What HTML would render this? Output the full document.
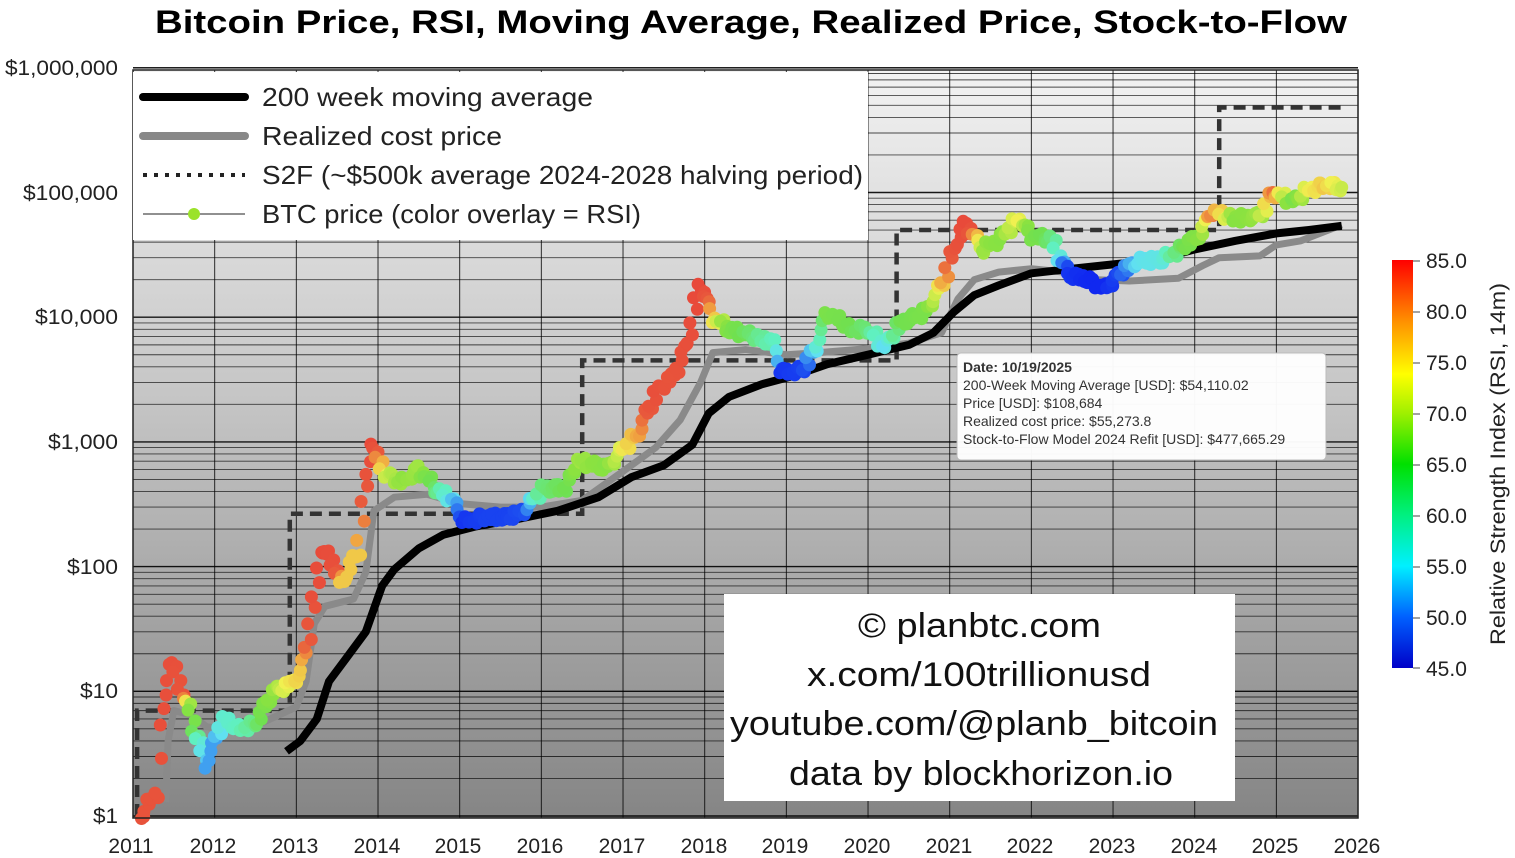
<!DOCTYPE html>
<html><head><meta charset="utf-8">
<style>
html,body{margin:0;padding:0;background:#fff;}
body{width:1515px;height:858px;overflow:hidden;font-family:"Liberation Sans",sans-serif;}
</style></head>
<body>
<svg id="s" width="1515" height="858" xmlns="http://www.w3.org/2000/svg" font-family="Liberation Sans, sans-serif" style="position:absolute;left:0;top:0">
<defs>
<linearGradient id="bg" x1="0" y1="0" x2="0" y2="1">
<stop offset="0" stop-color="#f2f2f2"/><stop offset="0.45" stop-color="#c4c4c4"/><stop offset="1" stop-color="#858585"/>
</linearGradient>
<linearGradient id="jet" x1="0" y1="1" x2="0" y2="0">
<stop offset="0" stop-color="#0000c8"/><stop offset="0.125" stop-color="#0060ff"/><stop offset="0.25" stop-color="#00f0ff"/><stop offset="0.375" stop-color="#00f080"/><stop offset="0.5" stop-color="#00e000"/><stop offset="0.625" stop-color="#a0f000"/><stop offset="0.72" stop-color="#ffff00"/><stop offset="0.85" stop-color="#ff9000"/><stop offset="1" stop-color="#ff0000"/>
</linearGradient>
</defs>
<rect x="133" y="70" width="1225" height="748" fill="url(#bg)"/>
<g id="grid" stroke="#000" fill="none"></g>
<g id="series"></g>
<rect x="133" y="70" width="1225" height="748" fill="none" stroke="#222" stroke-width="1.5"/>
<text x="751" y="33" text-anchor="middle" font-size="32" font-weight="bold" fill="#000" textLength="1192" lengthAdjust="spacingAndGlyphs">Bitcoin Price, RSI, Moving Average, Realized Price, Stock-to-Flow</text>
<g font-size="21" fill="#222" text-anchor="end">
<text x="118" y="75" textLength="113" lengthAdjust="spacingAndGlyphs">$1,000,000</text>
<text x="118" y="200" textLength="95" lengthAdjust="spacingAndGlyphs">$100,000</text>
<text x="118" y="324" textLength="83" lengthAdjust="spacingAndGlyphs">$10,000</text>
<text x="118" y="449" textLength="70" lengthAdjust="spacingAndGlyphs">$1,000</text>
<text x="118" y="574" textLength="51" lengthAdjust="spacingAndGlyphs">$100</text>
<text x="118" y="698" textLength="38" lengthAdjust="spacingAndGlyphs">$10</text>
<text x="118" y="823" textLength="25" lengthAdjust="spacingAndGlyphs">$1</text>
</g>
<g font-size="21" fill="#222" text-anchor="middle">
<text x="131" y="853">2011</text><text x="213" y="853">2012</text><text x="295" y="853">2013</text><text x="377" y="853">2014</text><text x="458" y="853">2015</text><text x="540" y="853">2016</text><text x="622" y="853">2017</text><text x="704" y="853">2018</text><text x="785" y="853">2019</text><text x="867" y="853">2020</text><text x="949" y="853">2021</text><text x="1030" y="853">2022</text><text x="1112" y="853">2023</text><text x="1194" y="853">2024</text><text x="1275" y="853">2025</text><text x="1357" y="853">2026</text>
</g>
<!-- legend -->
<rect x="133" y="72" width="735" height="168" fill="#fff"/>
<line x1="143" y1="97" x2="245" y2="97" stroke="#000" stroke-width="8" stroke-linecap="round"/>
<line x1="143" y1="136" x2="245" y2="136" stroke="#888" stroke-width="8" stroke-linecap="round"/>
<line x1="143" y1="175" x2="245" y2="175" stroke="#222" stroke-width="4" stroke-dasharray="4,7"/>
<line x1="143" y1="214" x2="245" y2="214" stroke="#222" stroke-width="1"/>
<circle cx="194" cy="214" r="6" fill="#9be22a"/>
<g font-size="26" fill="#222">
<text x="262" y="106" textLength="331" lengthAdjust="spacingAndGlyphs">200 week moving average</text>
<text x="262" y="145" textLength="240" lengthAdjust="spacingAndGlyphs">Realized cost price</text>
<text x="262" y="184" textLength="601" lengthAdjust="spacingAndGlyphs">S2F (~$500k average 2024-2028 halving period)</text>
<text x="262" y="223" textLength="379" lengthAdjust="spacingAndGlyphs">BTC price (color overlay = RSI)</text>
</g>
<!-- tooltip -->
<rect x="957" y="353" width="369" height="107" rx="4" fill="#fff" stroke="#bbb" opacity="0.97"/>
<g font-size="14" fill="#333">
<text x="963" y="372" font-weight="bold">Date: 10/19/2025</text>
<text x="963" y="390">200-Week Moving Average [USD]: $54,110.02</text>
<text x="963" y="408">Price [USD]: $108,684</text>
<text x="963" y="426">Realized cost price: $55,273.8</text>
<text x="963" y="444">Stock-to-Flow Model 2024 Refit [USD]: $477,665.29</text>
</g>
<!-- watermark -->
<rect x="724" y="594" width="511" height="207" fill="#fff"/>
<g font-size="34" fill="#111">
<text x="858" y="637" textLength="243" lengthAdjust="spacingAndGlyphs">© planbtc.com</text>
<text x="807" y="686" textLength="344" lengthAdjust="spacingAndGlyphs">x.com/100trillionusd</text>
<text x="730" y="735" textLength="488" lengthAdjust="spacingAndGlyphs">youtube.com/@planb_bitcoin</text>
<text x="789" y="785" textLength="384" lengthAdjust="spacingAndGlyphs">data by blockhorizon.io</text>
</g>
<!-- colorbar -->
<rect x="1392" y="260" width="21" height="408" fill="url(#jet)"/>
<g font-size="21" fill="#222">
<text x="1426" y="268">85.0</text><text x="1426" y="319">80.0</text><text x="1426" y="370">75.0</text><text x="1426" y="421">70.0</text><text x="1426" y="472">65.0</text><text x="1426" y="523">60.0</text><text x="1426" y="574">55.0</text><text x="1426" y="625">50.0</text><text x="1426" y="676">45.0</text>
</g>
<g stroke="#444" stroke-width="1">
<line x1="1413" y1="261" x2="1420" y2="261"/><line x1="1413" y1="312" x2="1420" y2="312"/><line x1="1413" y1="363" x2="1420" y2="363"/><line x1="1413" y1="414" x2="1420" y2="414"/><line x1="1413" y1="465" x2="1420" y2="465"/><line x1="1413" y1="516" x2="1420" y2="516"/><line x1="1413" y1="567" x2="1420" y2="567"/><line x1="1413" y1="618" x2="1420" y2="618"/><line x1="1413" y1="668" x2="1420" y2="668"/>
</g>
<text transform="translate(1505,464) rotate(-90)" text-anchor="middle" font-size="21" fill="#222" textLength="362" lengthAdjust="spacingAndGlyphs">Relative Strength Index (RSI, 14m)</text>
</svg>
<script>
var NS="http://www.w3.org/2000/svg";
function X(t){return 133+(t-2011)*81.67;}
function Y(p){return 816-Math.log10(p)*124.7;}
function el(tag,a,parent){var e=document.createElementNS(NS,tag);for(var k in a)e.setAttribute(k,a[k]);parent.appendChild(e);return e;}
var g=document.getElementById('grid');
for(var d=0;d<6;d++){for(var m=1;m<10;m++){var p=m*Math.pow(10,d);var y=Y(p);if(y<70)continue;
el('line',{x1:133,x2:1358,y1:y,y2:y,'stroke-width':m==1?1.4:0.9,'stroke-opacity':m==1?0.9:0.7},g);}}
el('line',{x1:133,x2:1358,y1:Y(1e6),y2:Y(1e6),'stroke-width':1.4},g);
for(var t=2011;t<=2026;t++){el('line',{x1:X(t),x2:X(t),y1:70,y2:818,'stroke-width':1,'stroke-opacity':0.8},g);}
var S=document.getElementById('series');
function path(pts,a){var d='';pts.forEach(function(q,i){d+=(i?'L':'M')+X(q[0]).toFixed(1)+','+Y(q[1]).toFixed(1);});a.d=d;a.fill='none';return el('path',a,S);}
path([[2011.05,1],[2011.05,7],[2012.92,7],[2012.92,265],[2016.5,265],[2016.5,4500],[2020.35,4500],[2020.35,50000],[2024.3,50000],[2024.3,480000],[2025.8,480000]],{stroke:'#333','stroke-width':4.5,'stroke-dasharray':'12,7'});
path([[2011.4,1.3],[2011.43,4],[2011.5,7],[2011.7,6.5],[2011.9,5.2],[2012.1,5],[2012.5,5.3],[2012.8,6.5],[2013,7.5],[2013.12,12],[2013.22,35],[2013.35,48],[2013.7,55],[2013.85,90],[2013.95,280],[2014.2,360],[2014.6,380],[2015,320],[2015.5,300],[2016,300],[2016.5,340],[2017,580],[2017.4,900],[2017.7,1500],[2017.95,3000],[2018.1,5200],[2018.5,5500],[2019,5000],[2019.4,5200],[2020,5600],[2020.5,6200],[2020.9,7500],[2021.1,14000],[2021.3,20000],[2021.6,23000],[2022,24500],[2022.4,23000],[2022.8,20000],[2023.2,19500],[2023.8,20500],[2024.1,26000],[2024.3,30000],[2024.8,31000],[2025,38000],[2025.3,41000],[2025.8,55000]],{stroke:'#8a8a8a','stroke-width':7,'stroke-linejoin':'round'});
path([[2012.88,3.3],[2013.05,4],[2013.25,6],[2013.4,12],[2013.6,18],[2013.85,30],[2014.05,70],[2014.2,95],[2014.5,140],[2014.8,180],[2015.2,210],[2015.7,240],[2016.2,280],[2016.7,360],[2017.1,520],[2017.5,650],[2017.85,950],[2018.05,1700],[2018.3,2300],[2018.7,2900],[2019.1,3400],[2019.5,4200],[2020,5000],[2020.5,6000],[2020.8,7500],[2021.05,11000],[2021.3,15000],[2021.6,18000],[2022,22500],[2022.5,24500],[2023,26500],[2023.5,28500],[2024,35000],[2024.5,41000],[2025,47000],[2025.4,50000],[2025.8,54000]],{stroke:'#000','stroke-width':8,'stroke-linejoin':'round'});
var P=[[2011.1,1,80],[2011.3,1.6,80],[2011.35,5,82],[2011.45,18,82],[2011.6,10,80],[2011.68,7.5,66],[2011.8,4,55],[2011.9,2.6,50],[2012.0,4,50],[2012.1,6,54],[2012.3,5,55],[2012.5,5.5,58],[2012.6,7,62],[2012.7,10,65],[2012.9,11,70],[2013.05,14,72],[2013.15,28,78],[2013.22,55,82],[2013.3,140,84],[2013.45,110,82],[2013.55,70,72],[2013.75,130,72],[2013.92,1000,84],[2014.0,700,75],[2014.1,550,68],[2014.3,470,65],[2014.5,620,66],[2014.7,420,58],[2014.9,350,52],[2015.05,230,46],[2015.3,250,47],[2015.6,250,47],[2015.8,280,48],[2016,420,58],[2016.3,430,60],[2016.45,700,66],[2016.8,620,64],[2017.0,880,70],[2017.2,1200,74],[2017.4,2500,82],[2017.6,3200,80],[2017.8,6500,82],[2017.95,19000,85],[2018.1,10000,72],[2018.3,8000,62],[2018.6,7000,58],[2018.85,6200,55],[2018.95,3600,46],[2019.2,3800,47],[2019.35,5500,52],[2019.5,11000,62],[2019.8,8000,60],[2020.0,8000,58],[2020.2,5800,52],[2020.4,9000,60],[2020.7,11000,62],[2020.9,18000,72],[2021.05,35000,80],[2021.2,57000,84],[2021.4,35000,66],[2021.6,42000,64],[2021.85,62000,70],[2022.0,45000,62],[2022.25,42000,58],[2022.45,22000,46],[2022.7,20000,45],[2022.9,17000,45],[2023.1,23000,48],[2023.3,28000,52],[2023.6,29000,53],[2023.85,36000,60],[2024.05,45000,64],[2024.2,70000,76],[2024.5,62000,64],[2024.8,65000,66],[2024.95,100000,76],[2025.2,85000,62],[2025.4,105000,70],[2025.6,115000,72],[2025.8,110000,68]];
var ST=[[45,[16,40,240]],[48,[30,80,240]],[50,[64,160,240]],[52,[96,224,240]],[55,[96,240,192]],[60,[112,224,80]],[65,[140,226,64]],[70,[240,240,80]],[74,[240,160,64]],[77,[232,90,60]],[85,[232,72,58]]];
function col(r){if(r<=45)return 'rgb(16,40,240)';for(var i=1;i<ST.length;i++){if(r<=ST[i][0]){var a=ST[i-1],b=ST[i],f=(r-a[0])/(b[0]-a[0]);return 'rgb('+a[1].map(function(x,j){return Math.round(x+(b[1][j]-x)*f);}).join(',')+')';}}return 'rgb(232,72,58)';}
for(var i=0;i<P.length-1;i++){var a=P[i],b=P[i+1];var n=Math.max(2,Math.round((b[0]-a[0])/0.025));
for(var k=0;k<n;k++){var f=k/n;var t=a[0]+(b[0]-a[0])*f;var lp=Math.log10(a[1])+(Math.log10(b[1])-Math.log10(a[1]))*f;var r=a[2]+(b[2]-a[2])*f;
var jx=Math.sin(t*137)*3,jy=Math.cos(t*211)*4;
el('circle',{cx:(X(t)+jx).toFixed(1),cy:(816-lp*124.7+jy).toFixed(1),r:6.5,fill:col(r)},S);}}
el('circle',{cx:X(2025.8),cy:Y(110000),r:6.5,fill:col(68)},S);
</script>
</body></html>
